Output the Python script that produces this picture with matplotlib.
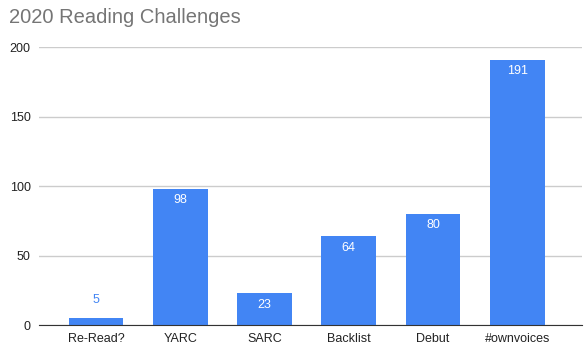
import matplotlib as mpl
mpl.use('Agg')

import matplotlib.pyplot as plt

challenges = ["Re-Read?", "YARC", "SARC", "Backlist", "Debut", "#ownvoices"]
books = [5, 98, 23, 64, 80, 191]
y_ticks = [0, 50, 100, 150, 200]

blue = "#4285F4"
plt.rcParams['font.family'] = ['Liberation Sans', 'DejaVu Sans']

fig = plt.figure(figsize=(5.84, 3.57), dpi=100)
ax = fig.add_axes([0.0668, 0.0896, 0.93, 0.7787])

x = list(range(len(challenges)))
bars = ax.bar(x, books, width=0.65, color=blue, zorder=3)

for i, v in enumerate(books):
    if v < 15:
        ax.annotate(str(v), (i, v), xytext=(0, 9), textcoords="offset points",
                    ha="center", va="bottom", color=blue, fontsize=9)
    else:
        ax.annotate(str(v), (i, v), xytext=(0, -4), textcoords="offset points",
                    ha="center", va="top", color="white", fontsize=9)

ax.set_ylim(0, 200)
ax.set_xlim(-0.677, 5.77)
ax.set_yticks(y_ticks)
ax.set_xticks(x)
ax.set_xticklabels(challenges)
ax.tick_params(axis="both", length=0, labelsize=9, colors="#222222")
ax.tick_params(axis="y", pad=6)
ax.tick_params(axis="x", pad=6)
ax.yaxis.grid(True, color="#cccccc", linewidth=1, zorder=0)
for side in ["top", "right", "left"]:
    ax.spines[side].set_visible(False)
ax.spines["bottom"].set_color("#333333")
ax.spines["bottom"].set_zorder(4)

fig.text(0.015, 0.952, "2020 Reading Challenges", fontsize=14.5, color="#757575",
         ha="left", va="center")

plt.savefig("out.png", dpi=100)
